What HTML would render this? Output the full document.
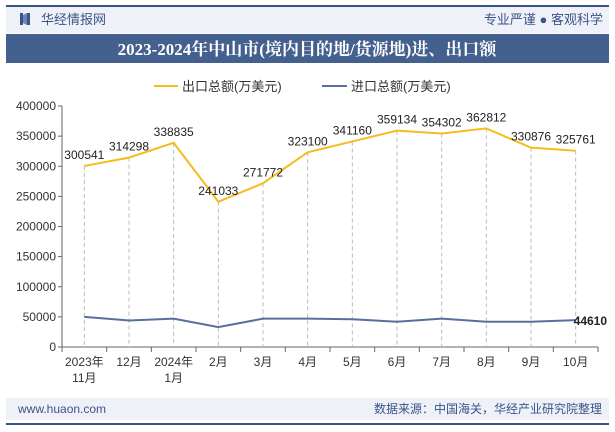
<!DOCTYPE html>
<html><head><meta charset="utf-8"><style>
body{margin:0;width:615px;height:427px;overflow:hidden;background:#fff;font-family:"Liberation Sans","Noto Sans CJK SC",sans-serif;}
</style></head><body>
<svg width="615" height="427" xmlns="http://www.w3.org/2000/svg">
<rect x="6" y="6" width="603" height="414" fill="#fff"/>
<rect x="6" y="6" width="603" height="27" fill="#eef2f8"/>
<line x1="6" y1="6" x2="609" y2="6" stroke="#3c5388" stroke-width="2"/>
<rect x="20" y="13" width="3" height="12" fill="#3c5388"/><rect x="27" y="13" width="3" height="12" fill="#3c5388"/><polygon points="23,15 27,13 27,25 23,23" fill="#6b84b8"/>
<text x="41" y="24" font-size="13" fill="#3c5388">华经情报网</text>
<text x="603" y="24" font-size="13" fill="#3c5388" text-anchor="end">专业严谨 ● 客观科学</text>
<rect x="6" y="34" width="603" height="29" fill="#44608f"/>
<text x="307" y="55" font-size="17" font-weight="bold" fill="#fff" text-anchor="middle" font-family="Liberation Serif,Noto Serif CJK SC,serif">2023-2024年中山市(境内目的地/货源地)进、出口额</text>
<g>
<line x1="154" y1="86" x2="178" y2="86" stroke="#f5bc1c" stroke-width="2"/>
<text x="182" y="91" font-size="13" fill="#333">出口总额(万美元)</text>
<line x1="322" y1="86" x2="347" y2="86" stroke="#5a6e9c" stroke-width="2"/>
<text x="351" y="91" font-size="13" fill="#333">进口总额(万美元)</text>
</g>
<g id="plot"></g>
<rect x="6" y="398" width="603" height="22" fill="#eef2f8"/>
<line x1="6" y1="424" x2="609" y2="424" stroke="#3c5388" stroke-width="2"/>
<text x="18" y="413" font-size="12" fill="#3c5388">www.huaon.com</text>
<text x="602" y="413" font-size="12" fill="#3c5388" text-anchor="end">数据来源：中国海关，华经产业研究院整理</text>
</svg>
<script>
const categories=["2023年|11月","12月","2024年|1月","2月","3月","4月","5月","6月","7月","8月","9月","10月"];
const exportValues=[300541,314298,338835,241033,271772,323100,341160,359134,354302,362812,330876,325761];
const importValues=[50000,44000,47000,33000,47000,47000,46000,42000,47000,42000,42000,44610];
const yTicks=[0,50000,100000,150000,200000,250000,300000,350000,400000];
const NS="http://www.w3.org/2000/svg";
const g=document.getElementById('plot');
const x0=62,x1=598,y0=347,yTop=106,yMax=400000;
const bw=(x1-x0)/categories.length;
const X=i=>x0+bw*(i+0.5);
const Y=v=>y0-(v/yMax)*(y0-yTop);
function mk(t,a){const e=document.createElementNS(NS,t);for(const k in a)e.setAttribute(k,a[k]);g.appendChild(e);return e;}
let ax=mk('line',{x1:x0,y1:yTop,x2:x0,y2:y0,stroke:'#666'});


let bx=mk('line',{x1:x0,y1:y0,x2:x1,y2:y0,stroke:'#666'});


yTicks.forEach(v=>{
 mk('line',{x1:x0-4,y1:Y(v),x2:x0,y2:Y(v),stroke:'#666'});
 const t=mk('text',{x:x0-6,y:Y(v)+4,'font-size':12,'text-anchor':'end',fill:'#333'});t.textContent=v;
 
 
});
for(let i=0;i<=categories.length;i++)mk('line',{x1:x0+bw*i,y1:y0,x2:x0+bw*i,y2:y0+5,stroke:'#666'});
categories.forEach((c,i)=>{
 c.split('|').forEach((s,j)=>{const t=mk('text',{x:X(i),y:y0+19+j*16,'font-size':12,'text-anchor':'middle',fill:'#333'});t.textContent=s;
 
 });
 const d=mk('line',{x1:X(i),y1:Y(exportValues[i]),x2:X(i),y2:y0,stroke:'#bbb','stroke-dasharray':'4,3'});
 
 
});
function line(vals,color,name){
 const p=mk('polyline',{points:vals.map((v,i)=>X(i)+','+Y(v)).join(' '),fill:'none',stroke:color,'stroke-width':2});
 
 
}
line(exportValues,'#f5bc1c','export-line');
line(importValues,'#5a6e9c','import-line');
exportValues.forEach((v,i)=>{const t=mk('text',{x:X(i),y:Y(v)-7,'font-size':12,'text-anchor':'middle',fill:'#222'});t.textContent=v;
 
 });
const n=importValues.length-1;
const lt=mk('text',{x:X(n)-2,y:Y(importValues[n])+5,'font-size':12,'font-weight':'bold',fill:'#222'});lt.textContent=importValues[n];


</script>
</body></html>
